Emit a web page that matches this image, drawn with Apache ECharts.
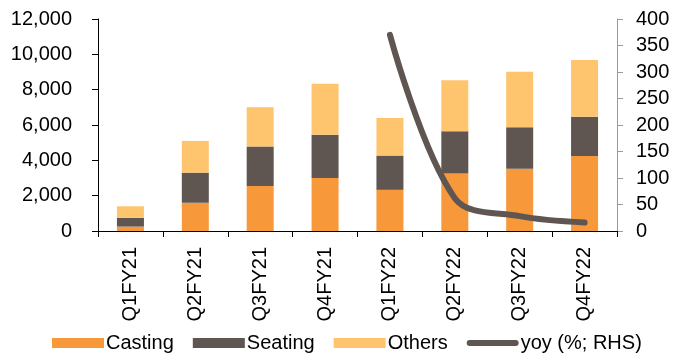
<!DOCTYPE html>
<html>
<head>
<meta charset="utf-8">
<script src="https://cdn.jsdelivr.net/npm/echarts@6/dist/echarts.min.js"></script>
<style>html,body{margin:0;padding:0;background:#fff}#c{width:673px;height:356px}</style>
</head>
<body>
<div id="c"></div>
<script>
const categories = ['Q1FY21','Q2FY21','Q3FY21','Q4FY21','Q1FY22','Q2FY22','Q3FY22','Q4FY22'];
const casting = [250,1600,2550,3000,2330,3250,3520,4250];
const seating = [500,1700,2230,2450,1940,2400,2350,2220];
const others  = [650,1800,2220,2880,2130,2880,3150,3210];
const yoy     = [null,null,null,null,370,62,28,16];

const FONT = 'Liberation Sans, Arial, sans-serif';
const LINE_ICON = 'path://M0,0 L0.1,0 L0,0.1 Z M52,10 L51.9,10 L52,9.9 Z M3,2 L49,2 A3,3 0 0 1 49,8 L3,8 A3,3 0 0 1 3,2 Z';
const chart = echarts.init(document.getElementById('c'));
chart.setOption({
  animation: false,
  textStyle: { fontFamily: FONT },
  grid: { left: 98, right: 56, top: 19, bottom: 125 },
  legend: {
    left: 47, top: 328, itemWidth: 52, itemHeight: 10, itemGap: 19,
    textStyle: { fontFamily: FONT, fontSize: 20, color: '#000', padding: [0,0,0,-3] },
    data: [
      { name: 'Casting', icon: 'rect' },
      { name: 'Seating', icon: 'rect' },
      { name: 'Others', icon: 'rect' },
      { name: 'yoy (%; RHS)', icon: LINE_ICON, itemStyle: { color: '#5F5652' } }
    ]
  },
  xAxis: {
    type: 'category', data: categories,
    axisLine: { lineStyle: { color: '#000', width: 1 } },
    axisTick: { show: true, length: 6, lineStyle: { color: '#000' } },
    axisLabel: { rotate: 90, fontSize: 20, color: '#000', margin: 16, fontFamily: FONT }
  },
  yAxis: [
    {
      type: 'value', min: 0, max: 12000, interval: 2000,
      splitLine: { show: false },
      axisLine: { show: true, lineStyle: { color: '#000' } },
      axisTick: { show: true, length: 6, lineStyle: { color: '#000' } },
      axisLabel: { fontSize: 20, color: '#000', margin: 26, fontFamily: FONT,
        formatter: v => v.toLocaleString('en-US') }
    },
    {
      type: 'value', min: 0, max: 400, interval: 50, position: 'right',
      splitLine: { show: false },
      axisLine: { show: true, lineStyle: { color: '#9a9a9a' } },
      axisTick: { show: true, length: 6, lineStyle: { color: '#9a9a9a' } },
      axisLabel: { fontSize: 20, color: '#000', margin: 19, fontFamily: FONT }
    }
  ],
  series: [
    { name: 'Casting', type: 'bar', stack: 's', data: casting, barWidth: 27,
      itemStyle: { color: '#F7983A' } },
    { name: 'Seating', type: 'bar', stack: 's', data: seating, barWidth: 27,
      itemStyle: { color: '#5F5652' } },
    { name: 'Others', type: 'bar', stack: 's', data: others, barWidth: 27,
      itemStyle: { color: '#FEC56E' } },
    { name: 'yoy (%; RHS)', type: 'line', yAxisIndex: 1, data: yoy,
      smooth: 0.35, symbol: 'none', showSymbol: false,
      itemStyle: { color: '#5F5652' },
      lineStyle: { color: '#5F5652', width: 6, cap: 'round', join: 'round' } }
  ]
});
</script>
</body>
</html>
